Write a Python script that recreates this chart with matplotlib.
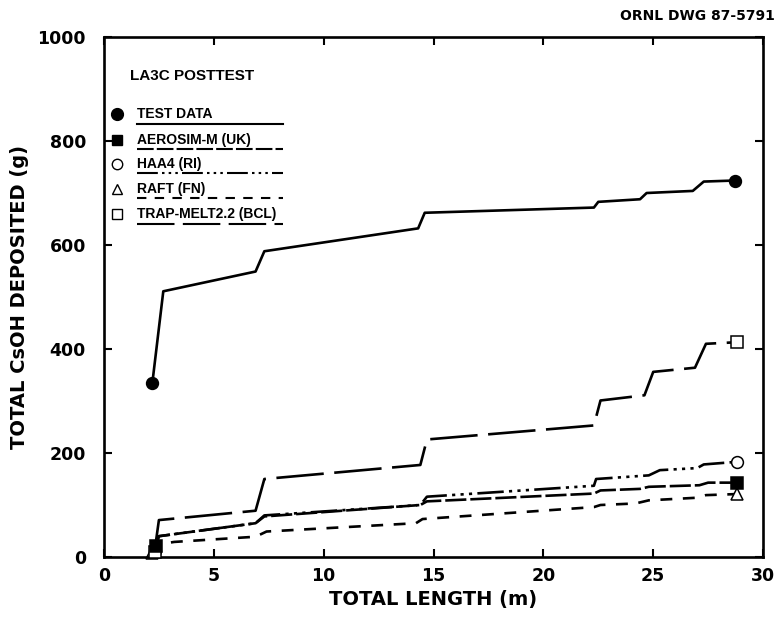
import numpy as np
import matplotlib
matplotlib.use("Agg")
import matplotlib.pyplot as plt

plt.rcParams['font.family'] = ['Liberation Sans', 'DejaVu Sans']
plt.rcParams['font.weight'] = 'bold'

# data
test_x = [2.2, 2.7, 6.9, 7.3, 14.3, 14.6, 22.3, 22.5, 24.4, 24.7, 26.8, 27.3, 28.7]
test_y = [334, 511, 549, 588, 632, 662, 672, 683, 688, 700, 704, 722, 724]

aero_x = [2.35, 2.5, 6.9, 7.3, 14.4, 14.7, 22.3, 22.6, 24.4, 24.8, 27.1, 27.5, 28.8]
aero_y = [22, 40, 65, 78, 100, 107, 122, 128, 131, 135, 138, 143, 143]

haa_x = [2.3, 2.5, 6.9, 7.3, 14.4, 14.7, 22.3, 22.4, 24.8, 25.3, 27.0, 27.3, 28.8]
haa_y = [12, 40, 65, 80, 100, 116, 137, 150, 157, 167, 171, 178, 183]

raft_x = [2.2, 2.6, 3.2, 6.9, 7.4, 14.2, 14.5, 22.3, 22.6, 24.2, 24.8, 27.0, 27.4, 28.8]
raft_y = [8, 25, 29, 39, 49, 65, 73, 96, 100, 103, 109, 114, 119, 121]

trap_x = [2.3, 2.5, 6.9, 7.3, 14.4, 14.7, 22.3, 22.6, 24.6, 25.0, 26.9, 27.4, 28.8]
trap_y = [10, 71, 89, 150, 177, 226, 253, 301, 311, 356, 364, 410, 413]

labels = ['TEST DATA', 'AEROSIM-M (UK)', 'HAA4 (RI)', 'RAFT (FN)', 'TRAP-MELT2.2 (BCL)']
xticks = [0, 5, 10, 15, 20, 25, 30]
yticks = [0, 200, 400, 600, 800, 1000]

# x, y, marker, face colour, dash pattern, zorder
series = [
    (test_x, test_y, 'o', 'k', None, 6),
    (aero_x, aero_y, 's', 'k', (8, 1.5), 5),
    (haa_x, haa_y, 'o', 'w', (10, 2, 1.2, 2, 1.2, 2, 1.2, 2), 3),
    (raft_x, raft_y, '^', 'w', (4.5, 4), 2),
    (trap_x, trap_y, 's', 'w', (18, 4), 4),
]

fig = plt.figure(figsize=(7.8, 6.22), dpi=100)
ax = fig.add_axes([0.1333, 0.1045, 0.845, 0.836])

for (x, y, mk, fc, dash, z) in series:
    line, = ax.plot(x, y, color='k', lw=1.9, marker=mk, markevery=[0, len(x) - 1],
                    markersize=8.5, markerfacecolor=fc, markeredgecolor='k',
                    markeredgewidth=1.1, clip_on=False, zorder=z)
    if dash is not None:
        line.set_dashes(dash)

ax.set_xlim(0, 30)
ax.set_ylim(0, 1000)
ax.set_xticks(xticks)
ax.set_yticks(yticks)
ax.tick_params(direction='in', length=6, width=1.5, top=True, right=True)
ax.tick_params(axis='x', pad=7)
ax.tick_params(axis='y', pad=13)
for lab in ax.get_xticklabels() + ax.get_yticklabels():
    lab.set_fontweight('bold')
    lab.set_fontfamily('DejaVu Sans')
    lab.set_fontsize(12.5)
for sp in ax.spines.values():
    sp.set_linewidth(1.9)

ax.set_xlabel('TOTAL LENGTH (m)', fontsize=14, fontweight='bold',
              family='DejaVu Sans', labelpad=4)
ax.set_ylabel('TOTAL CsOH DEPOSITED (g)', fontsize=14, fontweight='bold',
              family='DejaVu Sans', labelpad=6)

# hand-drawn style key
ax.text(0.04, 0.925, 'LA3C POSTTEST', transform=ax.transAxes, fontsize=11,
        fontweight='bold', va='center', ha='left')
row_y = [0.851, 0.802, 0.756, 0.708, 0.659]
for i, (x, y, mk, fc, dash, z) in enumerate(series):
    ry = row_y[i]
    ax.plot([0.02], [ry], marker=mk, markersize=7.5 if i != 0 else 8.5,
            markerfacecolor=fc, markeredgecolor='k', markeredgewidth=1.0,
            transform=ax.transAxes, clip_on=False)
    ax.text(0.05, ry, labels[i], transform=ax.transAxes, fontsize=10,
            fontweight='bold', va='center', ha='left')
    seg, = ax.plot([0.05, 0.272], [ry - 0.018, ry - 0.018], color='k', lw=1.5,
                   transform=ax.transAxes)
    if dash is not None:
        seg.set_dashes(dash)

fig.text(0.993, 0.975, 'ORNL DWG 87-5791', fontsize=10, fontweight='bold',
         family='DejaVu Sans', ha='right', va='center')

fig.savefig('out.png', dpi=100)
